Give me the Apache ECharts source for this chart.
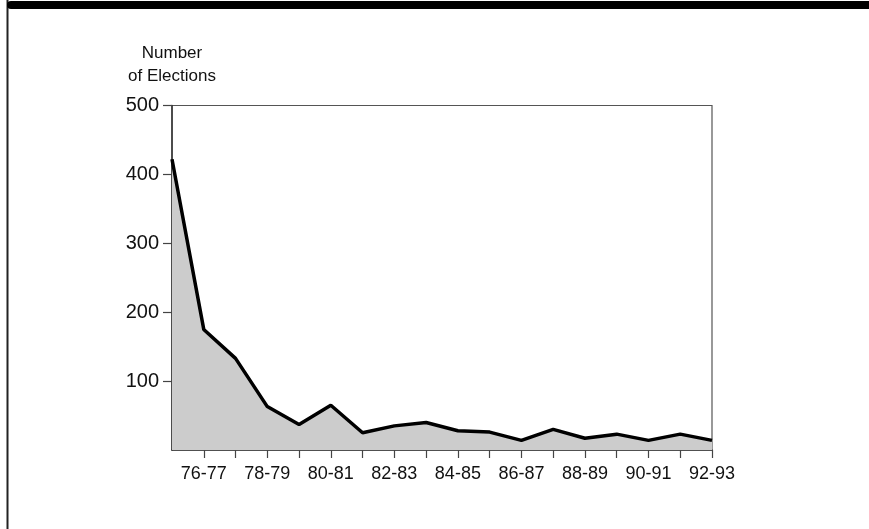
<!DOCTYPE html>
<html>
<head>
<meta charset="utf-8">
<script src="https://cdn.jsdelivr.net/npm/echarts@6/dist/echarts.min.js"></script>
<style>
html,body{margin:0;padding:0;background:#fff;}
#chart{width:869px;height:529px;}
</style>
</head>
<body>
<div id="chart"></div>
<script>
const categories = ['75-76','76-77','77-78','78-79','79-80','80-81','81-82','82-83','83-84','84-85','85-86','86-87','87-88','88-89','89-90','90-91','91-92','92-93'];
const elections = [422, 175, 133, 63, 37, 65, 25, 35, 40, 28, 26, 14, 30, 17, 23, 14, 23, 14];
const yTicks = [0, 100, 200, 300, 400, 500];
const yTitleLines = ['Number', 'of Elections'];

const chart = echarts.init(document.getElementById('chart'), null, {renderer: 'canvas'});
const font = '"Liberation Sans", Arial, sans-serif';
chart.setOption({
  animation: false,
  backgroundColor: '#fff',
  graphic: [
    {type: 'line', shape: {x1: 7.5, y1: 0, x2: 7.5, y2: 529}, style: {stroke: '#222', lineWidth: 2}},
    {type: 'rect', shape: {x: 7, y: 1, width: 880, height: 8, r: [4, 0, 0, 4]}, style: {fill: '#000'}},
    {type: 'text', x: 172, y: 53, style: {text: yTitleLines[0], font: '17px ' + font, fill: '#111', align: 'center', verticalAlign: 'middle'}},
    {type: 'text', x: 172, y: 76, style: {text: yTitleLines[1], font: '17px ' + font, fill: '#111', align: 'center', verticalAlign: 'middle'}}
  ],
  grid: {left: 172, right: 157, top: 105.5, bottom: 79, show: true, borderColor: '#555', borderWidth: 1.2, backgroundColor: 'transparent'},
  xAxis: {
    type: 'category',
    data: categories,
    boundaryGap: false,
    axisLine: {lineStyle: {color: '#333', width: 1.5}},
    axisTick: {show: true, interval: function (i) { return i > 0; }, length: 8, lineStyle: {color: '#444', width: 1.2}},
    axisLabel: {interval: function (i) { return i % 2 === 1; }, color: '#111', fontSize: 18, fontFamily: font, margin: 15},
    splitLine: {show: false}
  },
  yAxis: {
    type: 'value',
    min: yTicks[0],
    max: yTicks[yTicks.length - 1],
    interval: 100,
    axisLine: {show: true, lineStyle: {color: '#333', width: 1.5}},
    axisTick: {show: true, length: 9, lineStyle: {color: '#444', width: 1.2}},
    axisLabel: {showMinLabel: false, color: '#111', fontSize: 20, fontFamily: font, margin: 13},
    splitLine: {show: false}
  },
  series: [{
    type: 'line',
    data: elections,
    symbol: 'none',
    lineStyle: {color: '#000', width: 3.5},
    areaStyle: {color: '#cccccc', opacity: 1},
    z: 1
  }]
});
</script>
</body>
</html>
